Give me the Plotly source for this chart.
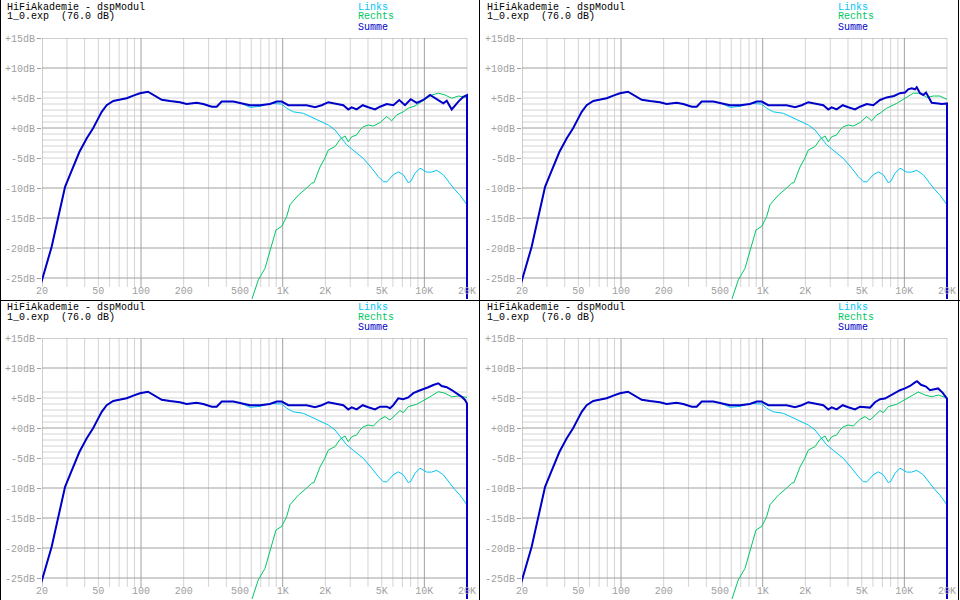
import math
import plotly.graph_objects as go

# ---------------- data ----------------
# Summe (panel 1, full curve)
SUM_F = [18.7, 19.4, 20.2, 21.6, 23.4, 24.7, 26.0, 27.5, 29.1, 31.5, 34.2, 36.7, 41.4, 46.0, 49.9,
         52.8, 57.2, 63.7, 70.2, 79.2, 88.2, 98.3, 112, 122, 140, 160, 188, 210, 247, 275, 316, 342,
         371, 448, 500, 588, 692, 813, 908, 984, 1096, 1256, 1477, 1691, 1885, 2100, 2405, 2680,
         2904, 3070, 3328, 3671, 4020, 4483, 4864, 5421, 6038, 6652, 7298, 8015, 8830, 9836, 10966,
         12230, 13605, 14390, 15600, 17380, 18840, 20000, 20000]
SUM_DB = [-30, -26.4, -25.0, -22.8, -19.8, -17.3, -14.8, -12.6, -9.8, -7.8, -5.9, -4.0, -1.7, 0.0, 1.6,
          2.7, 3.8, 4.5, 4.7, 4.95, 5.4, 5.8, 6.05, 5.5, 4.7, 4.5, 4.3, 4.0, 4.2, 4.0, 3.55, 3.55,
          4.4, 4.4, 4.2, 3.8, 3.8, 4.0, 4.4, 4.4, 3.8, 3.8, 3.8, 3.45, 3.8, 4.3, 4.0, 3.8,
          3.1, 3.45, 3.1, 3.8, 3.45, 3.1, 3.55, 4.0, 3.8, 4.67, 3.8, 4.8, 4.2, 4.67, 5.5,
          4.8, 4.1, 4.55, 3.1, 4.4, 5.2, 5.5, -40]

# Links: low part identical to Summe, own values above ~550 Hz
LINKS_F_HI = [588, 692, 813, 984, 1066, 1188, 1398, 1602, 1834, 2100, 2340, 2538, 2830, 3240, 3706,
              4250, 4730, 5130, 5421, 6038, 6546, 7096, 7700, 8015, 8590, 9314, 10390, 11270, 12230,
              13605, 14760, 16450, 17850, 20000]
LINKS_DB_HI = [3.45, 3.6, 4.1, 4.0, 3.3, 2.7, 2.45, 1.8, 1.2, 0.5, -0.33, -1.45, -2.8, -3.95, -5.05,
               -6.7, -8.1, -8.95, -9.0, -7.8, -7.3, -7.8, -9.1, -8.9, -7.55, -6.7, -7.35, -7.35, -7.05,
               -7.8, -8.95, -10.3, -11.2, -12.8]

# Rechts (panel 1)
RECHTS_F = [560, 604, 673, 750, 813, 897, 984, 1066, 1126, 1289, 1477, 1602, 1664, 1834, 1989, 2100,
            2340, 2538, 2754, 2904, 3070, 3328, 3513, 3706, 4020, 4362, 4864, 5421, 5880, 6380, 7096,
            7700, 8590, 9572, 10390, 11270, 12550, 13990, 15600, 17380, 20000]
RECHTS_DB = [-31, -28.7, -25.3, -23.4, -20.3, -17.0, -16.4, -14.8, -12.8, -11.2, -10.0, -9.2, -9.1,
             -6.5, -5.0, -3.67, -3.1, -1.9, -1.33, -2.3, -1.45, -1.17, -0.33, 0.2, 0.5, 0.33, 0.9,
             1.9, 1.2, 2.17, 2.7, 3.3, 3.67, 4.4, 4.95, 5.5, 5.8, 5.5, 4.95, 5.33, 5.1]

# high-frequency parts that differ in panels 2-4
SUM2_F = [6730, 7500, 8450, 9314, 10100, 10640, 11270, 11890, 12230, 12900, 13605, 14220, 14760,
          15600, 17380, 18350, 19800, 20000, 20000]
SUM2_DB = [4.67, 5.1, 5.33, 5.8, 5.9, 6.45, 6.6, 6.45, 6.8, 5.8, 5.5, 5.9, 5.2,
           4.2, 4.1, 4.0, 4.1, 4.1, -40]
RECHTS2_F = [6730, 7500, 8830, 10100, 11560, 12900, 14390, 16000, 17850, 19200, 20000]
RECHTS2_DB = [2.45, 3.3, 4.1, 4.95, 5.8, 5.8, 5.1, 5.33, 5.33, 4.95, 4.8]

SUM3_F = [4864, 5421, 5720, 6038, 6546, 7096, 7700, 8356, 9060, 9836, 10660, 11560, 12550, 13260,
          14390, 15600, 16900, 18350, 19360, 20000, 20000]
SUM3_DB = [3.55, 3.55, 3.3, 3.8, 4.95, 4.8, 5.1, 5.8, 6.17, 6.45, 6.8, 7.17, 7.45, 7.0,
           6.8, 6.33, 5.8, 5.2, 4.67, 4.1, -40]
RECHTS3_F = [4864, 5270, 5720, 6200, 6730, 7096, 7700, 8830, 9836, 10966, 12550, 13990, 15600, 17380, 20000]
RECHTS3_DB = [1.45, 1.9, 1.33, 2.17, 2.9, 2.55, 3.55, 3.95, 4.55, 5.2, 6.05, 5.8, 5.2, 5.33, 5.1]

SUM4_F = [4864, 5720, 6200, 6730, 7298, 7900, 8590, 9314, 10100, 10966, 11890, 12300, 13100, 14220,
          15170, 16450, 17300, 18600, 20000, 20000]
SUM4_DB = [3.55, 3.4, 4.3, 4.8, 4.9, 5.4, 5.9, 6.3, 6.6, 7.0, 7.6, 7.8, 7.2, 6.9,
           6.3, 6.5, 6.6, 5.9, 4.9, -40]
RECHTS4_F = [4864, 5270, 5720, 6200, 6730, 7096, 7700, 8830, 9836, 10966, 12550, 13990, 15600, 17380, 20000]
RECHTS4_DB = [1.45, 1.9, 1.33, 2.17, 2.9, 2.55, 3.55, 3.95, 4.55, 5.2, 6.0, 5.5, 5.2, 5.5, 5.0]

X_TICKS = [20, 50, 100, 200, 500, 1000, 2000, 5000, 10000, 20000]
X_TICKTEXT = ['20', '50', '100', '200', '500', '1K', '2K', '5K', '10K', '20K']
Y_TICKS = [15, 10, 5, 0, -5, -10, -15, -20, -25]
Y_TICKTEXT = ['+15dB', '+10dB', '+5dB', '+0dB', '-5dB', '-10dB', '-15dB', '-20dB', '-25dB']
H_MAJOR = [15, 10, 0, -10, -15, -20, -25]
H_MINOR = [6, 5, 4, 3, 2, 1, -1, -2, -3, -4, -5, -6]
V_MAJOR = [20, 100, 1000, 10000]
V_MINOR = [30, 40, 50, 60, 70, 80, 90, 200, 300, 400, 500, 600, 700, 800, 900,
           2000, 3000, 4000, 5000, 6000, 7000, 8000, 9000, 20000]

TITLE1 = 'HiFiAkademie - dspModul'
TITLE2 = '1_0.exp\u00a0\u00a0(76.0 dB)'
LEGEND = [('Links', '#00c4f4'), ('Rechts', '#00c864'), ('Summe', '#0000c8')]


def combine(bf, bd, tf, td):
    f = [x for x in bf if x < tf[0]]
    d = [bd[i] for i, x in enumerate(bf) if x < tf[0]]
    return f + list(tf), d + list(td)


LINKS_F, LINKS_DB = combine(SUM_F, SUM_DB, LINKS_F_HI, LINKS_DB_HI)

panels = [
    (SUM_F, SUM_DB, RECHTS_F, RECHTS_DB),
    combine(SUM_F, SUM_DB, SUM2_F, SUM2_DB) + combine(RECHTS_F, RECHTS_DB, RECHTS2_F, RECHTS2_DB),
    combine(SUM_F, SUM_DB, SUM3_F, SUM3_DB) + combine(RECHTS_F, RECHTS_DB, RECHTS3_F, RECHTS3_DB),
    combine(SUM_F, SUM_DB, SUM4_F, SUM4_DB) + combine(RECHTS_F, RECHTS_DB, RECHTS4_F, RECHTS4_DB),
]

W, H = 960, 600
offsets = [(0, 0), (480, 0), (0, 300), (480, 300)]
PX_DEC = 425 / 3.0
FONT = 'Liberation Mono, DejaVu Sans Mono, monospace'
GRAY = '#a0a0a0'
LIGHT = '#d4d4d4'

fig = go.Figure()
layout = dict(width=W, height=H, margin=dict(l=0, r=0, t=0, b=0, pad=0, autoexpand=False),
              paper_bgcolor='white', plot_bgcolor='white', showlegend=False,
              font=dict(family=FONT, size=10, color=GRAY))
annotations = []
shapes = []


def grid_trace(xs_list, ys_list, color, xa, ya):
    xs, ys = [], []
    for xx, yy in zip(xs_list, ys_list):
        xs += list(xx) + [None]
        ys += list(yy) + [None]
    return go.Scatter(x=xs, y=ys, mode='lines', line=dict(color=color, width=1),
                      xaxis=xa, yaxis=ya, hoverinfo='skip')


for i, (ox, oy) in enumerate(offsets):
    sfx = '' if i == 0 else str(i + 1)
    xa, ya = 'x' + sfx, 'y' + sfx
    x0px, x1px = ox + 42, ox + 469
    ytop, ybot = oy + 38, oy + 299
    layout['xaxis' + sfx] = dict(
        type='log', domain=[x0px / W, x1px / W],
        range=[math.log10(20), math.log10(20000) + 2 / PX_DEC],
        anchor=ya, showgrid=False, zeroline=False, showline=False, automargin=False,
        tickvals=X_TICKS, ticktext=X_TICKTEXT, ticks='',
        ticklabelposition='inside', ticklabeloverflow='allow',
        tickfont=dict(family=FONT, size=10, color=GRAY), fixedrange=True)
    layout['yaxis' + sfx] = dict(
        domain=[1 - ybot / H, 1 - ytop / H],
        range=[15 - (ybot - ytop) / 6.0, 15],
        anchor=xa, showgrid=False, zeroline=False, showline=False, automargin=False,
        tickvals=Y_TICKS, ticktext=Y_TICKTEXT, ticks='outside', ticklen=4,
        tickcolor=GRAY, tickwidth=1,
        tickfont=dict(family=FONT, size=10, color=GRAY), fixedrange=True)

    # grid
    fig.add_trace(grid_trace([[20, 20000]] * len(H_MINOR), [[v, v] for v in H_MINOR], LIGHT, xa, ya))
    fig.add_trace(grid_trace([[v, v] for v in V_MINOR], [[15, -26.5]] * len(V_MINOR), LIGHT, xa, ya))
    fig.add_trace(grid_trace([[20, 20000]] * len(H_MAJOR), [[v, v] for v in H_MAJOR], GRAY, xa, ya))
    fig.add_trace(grid_trace([[v, v] for v in V_MAJOR], [[15, -26.5]] * len(V_MAJOR), GRAY, xa, ya))

    sf, sd, rf, rd = panels[i]
    fig.add_trace(go.Scatter(x=LINKS_F, y=LINKS_DB, mode='lines', line=dict(color=LEGEND[0][1], width=1),
                             xaxis=xa, yaxis=ya, hoverinfo='skip'))
    fig.add_trace(go.Scatter(x=rf, y=rd, mode='lines', line=dict(color=LEGEND[1][1], width=1),
                             xaxis=xa, yaxis=ya, hoverinfo='skip'))
    fig.add_trace(go.Scatter(x=sf, y=sd, mode='lines', line=dict(color=LEGEND[2][1], width=2),
                             xaxis=xa, yaxis=ya, hoverinfo='skip'))

    # header texts
    for k, t in enumerate([TITLE1, TITLE2]):
        annotations.append(dict(x=(ox + 6) / W, y=1 - (oy + 7 + 10 * k) / H, xref='paper', yref='paper',
                                text=t, showarrow=False, xanchor='left', yanchor='middle', borderpad=0,
                                font=dict(family=FONT, size=10, color='black')))
    for k, (t, c) in enumerate(LEGEND):
        annotations.append(dict(x=(ox + 357) / W, y=1 - (oy + 7 + 10 * k) / H, xref='paper', yref='paper',
                                text=t, showarrow=False, xanchor='left', yanchor='middle', borderpad=0,
                                font=dict(family=FONT, size=10, color=c)))

# borders
for (x0, y0, x1, y1) in [(0.5, 0, 0.5, H), (W - 1.5, 0, W - 1.5, H), (479.5, 0, 479.5, H), (0, 300.5, W, 300.5)]:
    shapes.append(dict(type='line', xref='paper', yref='paper', x0=x0 / W, x1=x1 / W,
                       y0=1 - y0 / H, y1=1 - y1 / H, line=dict(color='black', width=1)))

layout['annotations'] = annotations
layout['shapes'] = shapes
fig.update_layout(**layout)
fig.write_html('out.html', config={'displayModeBar': False},
               post_script="document.body.style.margin='0';document.body.style.overflow='hidden';")
